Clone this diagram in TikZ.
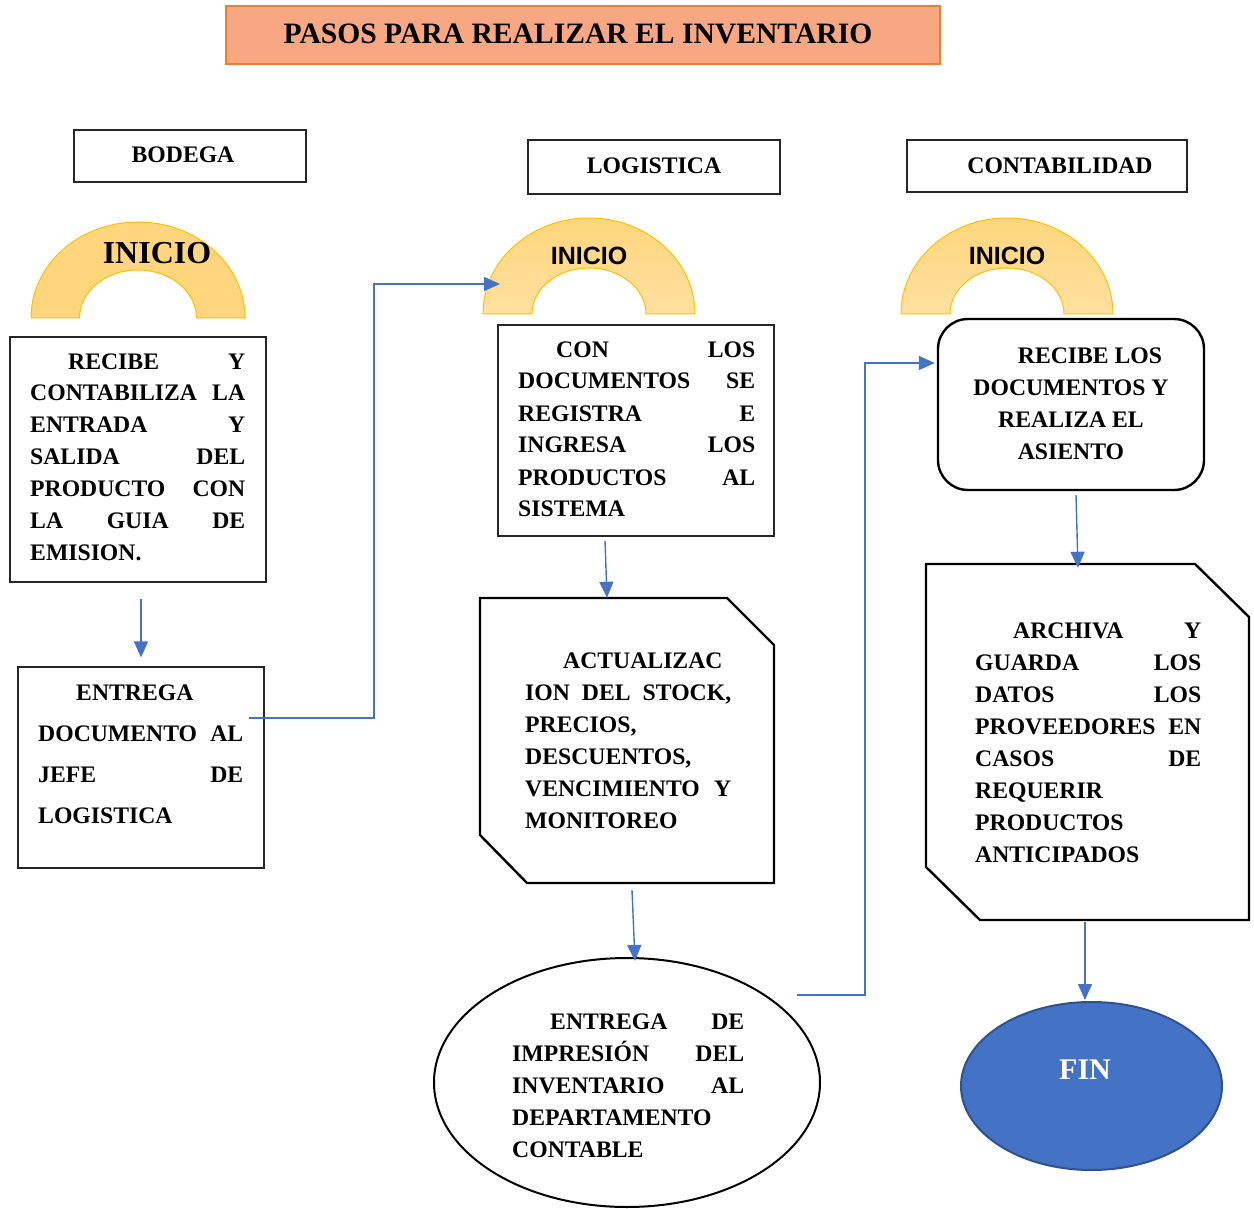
\documentclass[tikz,border=0pt]{standalone}
\usepackage{fontspec}
\setmainfont{Liberation Serif}
\newfontfamily\sansfam{Liberation Sans}
\usetikzlibrary{arrows.meta,calc,shapes.geometric}
\definecolor{arrowblue}{HTML}{4472C4}
\definecolor{finborder}{HTML}{2F528F}
\definecolor{archfill}{HTML}{FFD67D}
\definecolor{archfilllight}{HTML}{FFE0A0}
\definecolor{archline}{HTML}{FFC000}
\definecolor{titlefill}{HTML}{F7A883}
\definecolor{titleline}{HTML}{ED7D31}
\setlength\parindent{0pt}
\newcommand\bodyfont{\fontsize{23.7}{32}\selectfont\bfseries}
\newcommand\JL[1]{\hbox to\hsize{#1}}
\newcommand\LL[1]{\hbox to\hsize{#1\hfill}}
\newcommand\CL[1]{\hbox to\hsize{\hfill#1\hfill}}
\newcommand\IND{\hskip38pt\relax}
\newcommand\para[3]{\vtop{\hsize=#1\relax\bodyfont\baselineskip=#2\relax\lineskiplimit=-100pt\relax #3}}
\begin{document}
\begin{tikzpicture}[x=1pt,y=-1pt,
  arr/.style={draw=arrowblue,line width=1.4pt,-{Triangle[length=16pt,width=14pt]}},
  hdr/.style={draw=black!85,line width=1.1pt,inner sep=0pt},
  thinbox/.style={draw=black!85,line width=1.2pt,inner sep=0pt},
  thickbox/.style={draw=black,line width=2.4pt,line join=miter},
  archshape/.style={fill=archfill,draw=archline,line width=1pt},
  archshade/.style={top color=archfill,bottom color=archfilllight,draw=archline,line width=1pt},
  txt/.style={inner sep=0pt,anchor=base west},
  hdrtxt/.style={inner sep=0pt,font=\bodyfont}]

\useasboundingbox (0,0) rectangle (1254,1209);

% title
\node[draw=titleline,fill=titlefill,line width=1.2pt,minimum width=714pt,minimum height=58pt,inner sep=0pt] (title) at (583,35) {};
\node[inner sep=0pt,font=\fontsize{29.6}{34}\selectfont\bfseries] (ttitle) at (578,34) {PASOS PARA REALIZAR EL INVENTARIO};

% headers
\node[hdr,minimum width=232pt,minimum height=52pt] (hbod) at (190,156) {};
\node[hdrtxt] (tbod) at (183,155) {BODEGA};
\node[hdr,minimum width=252pt,minimum height=54pt] (hlog) at (654,167) {};
\node[hdrtxt] (tlog) at (654,166) {LOGISTICA};
\node[hdr,minimum width=280pt,minimum height=52pt] (hcon) at (1047,166) {};
\node[hdrtxt] (tcon) at (1060,166) {CONTABILIDAD};

% arches
\path[archshape] (31,318) arc[start angle=180,end angle=0,x radius=107pt,y radius=96pt] -- (196.5,318) arc[start angle=0,end angle=180,x radius=58.5pt,y radius=48pt] -- cycle;
\node[inner sep=0pt,font=\fontsize{32}{36}\selectfont\bfseries] (ini1) at (157,253) {INICIO};

\path[archshade] (483,314) arc[start angle=180,end angle=0,x radius=106pt,y radius=96pt] -- (646,314) arc[start angle=0,end angle=180,x radius=57pt,y radius=46pt] -- cycle;
\node[inner sep=0pt,font=\sansfam\fontsize{25}{30}\selectfont\bfseries] (ini2) at (589,256) {INICIO};

\path[archshade] (901,314) arc[start angle=180,end angle=0,x radius=106pt,y radius=96pt] -- (1064,314) arc[start angle=0,end angle=180,x radius=57pt,y radius=46pt] -- cycle;
\node[inner sep=0pt,font=\sansfam\fontsize{25}{30}\selectfont\bfseries] (ini3) at (1007,256) {INICIO};

% BODEGA column
\node[thinbox,minimum width=256pt,minimum height=245pt] (b1) at (138,459.5) {};
\node[txt] (t1) at (30,369) {\para{215pt}{32pt}{%
\JL{\IND RECIBE\hfill Y}
\JL{CONTABILIZA\hfill LA}
\JL{ENTRADA\hfill Y}
\JL{SALIDA\hfill DEL}
\JL{PRODUCTO\hfill CON}
\JL{LA\hfill GUIA\hfill DE}
\LL{EMISION.}}};

\node[thinbox,minimum width=246pt,minimum height=201pt] (b2) at (141,767.5) {};
\node[txt] (t2) at (38,700) {\para{205pt}{41pt}{%
\LL{\IND ENTREGA}
\JL{DOCUMENTO\hfill AL}
\JL{JEFE\hfill DE}
\LL{LOGISTICA}}};

% LOGISTICA column
\node[thinbox,minimum width=276pt,minimum height=211pt] (b3) at (636,430.5) {};
\node[txt] (t3) at (518,357) {\para{237pt}{32pt}{%
\JL{\IND CON\hfill LOS}
\JL{DOCUMENTOS\hfill SE}
\JL{REGISTRA\hfill E}
\JL{INGRESA\hfill LOS}
\JL{PRODUCTOS\hfill AL}
\LL{SISTEMA}}};

\node[inner sep=0pt,minimum width=294pt,minimum height=285pt] (act) at (627,740.5) {};
\draw[thickbox] (480,598) -- (727,598) -- (774,645) -- (774,883) -- (527,883) -- (480,835) -- cycle;
\node[txt] (t4) at (525,668) {\para{206pt}{32pt}{%
\LL{\IND ACTUALIZAC}
\JL{ION\hfill DEL\hfill STOCK,}
\LL{PRECIOS,}
\LL{DESCUENTOS,}
\JL{VENCIMIENTO\hfill Y}
\LL{MONITOREO}}};

\node[ellipse,draw=black,line width=2pt,minimum width=386pt,minimum height=249pt,inner sep=0pt] (el) at (627,1082.5) {};
\node[txt] (t5) at (512,1029) {\para{232pt}{32pt}{%
\JL{\IND ENTREGA\hfill DE}
\JL{IMPRESIÓN\hfill DEL}
\JL{INVENTARIO\hfill AL}
\LL{DEPARTAMENTO}
\LL{CONTABLE}}};

% CONTABILIDAD column
\node[draw=black,line width=2.4pt,rounded corners=30pt,minimum width=266pt,minimum height=171pt,inner sep=0pt] (rb) at (1071,404.5) {};
\node[inner sep=0pt,anchor=base] (t6) at (1071,363) {\para{240pt}{32pt}{%
\CL{\IND RECIBE LOS}
\CL{DOCUMENTOS Y}
\CL{REALIZA EL}
\CL{ASIENTO}}};

\node[inner sep=0pt,minimum width=323pt,minimum height=356pt] (archv) at (1087.5,742) {};
\draw[thickbox] (926,564) -- (1195,564) -- (1249,617) -- (1249,920) -- (980,920) -- (926,867) -- cycle;
\node[txt] (t7) at (975,638) {\para{226pt}{32pt}{%
\JL{\IND ARCHIVA\hfill Y}
\JL{GUARDA\hfill LOS}
\JL{DATOS\hfill LOS}
\JL{PROVEEDORES\hfill EN}
\JL{CASOS\hfill DE}
\LL{REQUERIR}
\LL{PRODUCTOS}
\LL{ANTICIPADOS}}};

\node[ellipse,fill=arrowblue,draw=finborder,line width=2pt,minimum width=261pt,minimum height=168pt,inner sep=0pt] (fin) at (1091.5,1086) {};
\node[inner sep=0pt,text=white,font=\fontsize{30}{34}\selectfont\bfseries] (tfin) at (1085,1070) {FIN};

% connectors
\coordinate (in2) at (500,284);
\draw[arr] ([xshift=3pt,yshift=-16pt]b1.south) -- ([yshift=9pt]b2.north);
\draw[arr] ($(b2.east)+(-16,-49.5)$) -| ($(in2)+(-126,0)$) -- (in2);
\draw[arr] ([xshift=-31pt,yshift=-4pt]b3.south) -- ([xshift=-20pt]act.north);
\draw[arr] ([xshift=5pt,yshift=-7pt]act.south) -- ([xshift=8pt,yshift=-4pt]el.north);
\draw[arr] ($(el.center)+(170,-87.5)$) -| ($(rb.west)+(-72,-41.5)$) -- ($(rb.west)+(-2,-41.5)$);
\draw[arr] ([xshift=5pt,yshift=-4pt]rb.south) -- ([xshift=-9.5pt,yshift=-4pt]archv.north);
\draw[arr] ([xshift=-2.5pt,yshift=-2pt]archv.south) -- ([xshift=-6.5pt,yshift=1pt]fin.north);
\end{tikzpicture}
\end{document}
